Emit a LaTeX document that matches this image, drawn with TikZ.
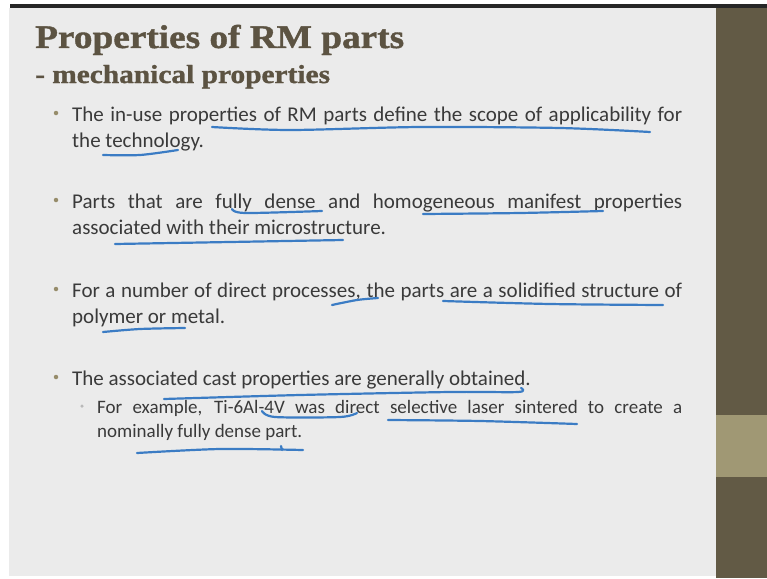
\documentclass[tikz,border=0pt]{standalone}
\usepackage{fontspec}
\setmainfont{Carlito}
\newfontfamily\titlefont[FakeStretch=1.13,BoldFeatures={FakeBold=1.2}]{Liberation Serif}
\usetikzlibrary{positioning}
\tolerance=10000
\definecolor{slidebg}{HTML}{EBEBEB}
\definecolor{barbrown}{HTML}{625A45}
\definecolor{barlight}{HTML}{A09874}
\definecolor{titlebrown}{HTML}{5C5342}
\definecolor{bodygray}{HTML}{3A3A3A}
\definecolor{inkblue}{HTML}{3B7CC4}
\definecolor{dotolive}{HTML}{968C6A}
\tikzset{ % text styles, one per level of the slide
  slide text/.style={anchor=base west,inner sep=0},
  title text/.style={slide text,text=titlebrown,font=\titlefont\bfseries\fontsize{33}{36}\selectfont},
  subtitle text/.style={slide text,text=titlebrown,font=\titlefont\bfseries\fontsize{26}{30}\selectfont},
  item text/.style={slide text,text=bodygray,text width=610pt,align=justify,font=\fontsize{21}{26}\selectfont},
  sub text/.style={item text,text width=585pt,font=\fontsize{19}{24}\selectfont},
  bullet/.style={circle,inner sep=0,minimum size=4.5pt,fill=dotolive},
  sub bullet/.style={bullet,minimum size=3.5pt,fill=gray!55},
  ink/.style={draw=inkblue,line width=2.2pt,line cap=round,line join=round}
}

\begin{document}
\begin{tikzpicture}[x=1pt,y=-1pt]
\useasboundingbox (0,0) rectangle (767,578);

% slide background
\fill[white]    (0,0)    rectangle (767,578);
\fill[slidebg]  (9,8)    rectangle (716,576);
\fill[black!85] (10,4)   rectangle (767,8);
\fill[barbrown] (716,8)  rectangle (767,578);
\fill[barlight] (716,415) rectangle (767,477);

% heading
\node[title text]    (title)    at (35,48) {Properties of RM parts};
\node[subtitle text] (subtitle) at (35,83) {- mechanical properties};

% bullet points
\node[item text] (b1) at (72,121) {The in-use properties of RM parts define the scope of applicability for\linebreak the technology.};
\node[item text] (b2) at (72,208) {Parts that are fully dense and homogeneous manifest properties\linebreak associated with their microstructure.};
\node[item text] (b3) at (72,297) {For a number of direct processes, the parts are a solidified structure of\linebreak polymer or metal.};
\node[item text] (b4) at (72,385) {The associated cast properties are generally obtained.};
\node[sub text]  (s1) at (97,413) {For example, Ti-6Al-4V was direct selective laser sintered to create a\linebreak nominally fully dense part.};

% dots
\foreach\i/\y in {1/121,2/208,3/297,4/385}
  \node[bullet] (dot\i) at (56,\y-8) {};
\node[sub bullet] (subdot1) at (82,406) {};

% pen marks
\draw[ink] plot[smooth] coordinates {(212,127) (290,130) (420,127) (560,128) (650,132)};
\draw[ink] plot[smooth] coordinates {(103,155) (140,155) (178,150)};
\draw[ink] plot[smooth] coordinates {(232,209) (245,213) (322,211)};
\draw[ink] plot[smooth] coordinates {(423,214) (520,213) (603,211)};
\draw[ink] plot[smooth] coordinates {(115,244) (230,242) (343,240)};
\draw[ink] plot[smooth] coordinates {(332,305) (357,300) (378,298)};
\draw[ink] plot[smooth] coordinates {(443,301) (550,304) (663,305)};
\draw[ink] plot[smooth] coordinates {(103,332) (140,329) (185,328)};
\draw[ink] plot[smooth] coordinates {(164,399) (300,395) (450,392) (518,392) (521,388)};
\draw[ink] plot[smooth] coordinates {(262,411) (275,417) (340,417) (357,413)};
\draw[ink] plot[smooth] coordinates {(388,420) (480,421) (577,424)};
\draw[ink] plot[smooth] coordinates {(137,453) (220,449) (303,450)};
\draw[ink] (281,446) -- (282,450);
\end{tikzpicture}
\end{document}
